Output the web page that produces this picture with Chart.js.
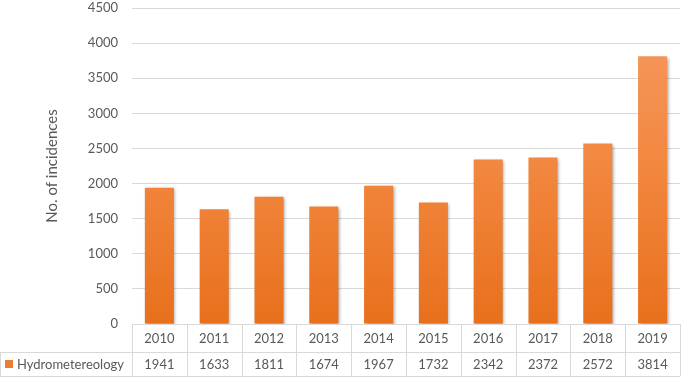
<!DOCTYPE html>
<html>
<head>
<meta charset="utf-8">
<script src="https://cdn.jsdelivr.net/npm/chart.js@4.4.0/dist/chart.umd.min.js"></script>
<style>
  html, body { margin: 0; padding: 0; background: #fff; }
  #wrap { width: 685px; height: 385px; }
</style>
</head>
<body>
<div id="wrap"><canvas id="myChart" width="685" height="385"></canvas></div>
<script>
const years = ["2010", "2011", "2012", "2013", "2014", "2015", "2016", "2017", "2018", "2019"];
const incidences = [1941, 1633, 1811, 1674, 1967, 1732, 2342, 2372, 2572, 3814];
const seriesName = "Hydrometereology";
const yTicks = [0, 500, 1000, 1500, 2000, 2500, 3000, 3500, 4000, 4500];

const FONT = "Lato, 'Open Sans', sans-serif";
const GRID = "#D9D9D9";
const TEXT = "#595959";

// bar shadow like the office chart
const shadowPlugin = {
  id: "barShadow",
  beforeDatasetsDraw(chart) {
    const c = chart.ctx;
    c.save();
    c.shadowColor = "rgba(0, 0, 0, 0.35)";
    c.shadowBlur = 3;
    c.shadowOffsetX = 1.5;
    c.shadowOffsetY = 1.5;
  },
  afterDatasetsDraw(chart) {
    chart.ctx.restore();
  },
};

// data table under the plot
const tablePlugin = {
  id: "dataTable",
  afterDraw(chart) {
    const c = chart.ctx;
    const x = chart.scales.x;
    const area = chart.chartArea;
    const colW = (area.right - area.left) / years.length;
    const top = area.bottom;
    const mid = top + 28;
    const bot = mid + 24;

    c.save();
    c.strokeStyle = GRID;
    c.lineWidth = 1;
    c.beginPath();
    c.moveTo(area.left, top + 0.5);
    c.lineTo(area.right, top + 0.5);
    c.moveTo(0, mid + 0.5);
    c.lineTo(area.right, mid + 0.5);
    c.moveTo(0, bot + 0.5);
    c.lineTo(area.right, bot + 0.5);
    for (let i = 0; i <= years.length; i++) {
      const px = Math.round(area.left + i * colW) + 0.5;
      c.moveTo(px, top);
      c.lineTo(px, bot);
    }
    c.moveTo(0.5, mid);
    c.lineTo(0.5, bot);
    c.stroke();

    c.fillStyle = TEXT;
    c.font = "13px " + FONT;
    c.textAlign = "center";
    c.textBaseline = "middle";
    years.forEach((yr, i) => {
      const px = x.getPixelForValue(i);
      c.fillText(yr, px, (top + mid) / 2 + 1);
      c.fillText(String(incidences[i]), px, (mid + bot) / 2 + 1);
    });

    c.fillStyle = "#ED7D31";
    c.fillRect(5, (mid + bot) / 2 - 4, 8, 8);
    c.fillStyle = TEXT;
    c.textAlign = "left";
    c.fillText(seriesName, 17, (mid + bot) / 2 + 1);
    c.restore();
  },
};

window.addEventListener("load", function () {
  const ctx = document.getElementById("myChart").getContext("2d");

  new Chart(ctx, {
    type: "bar",
    data: {
      labels: years,
      datasets: [
        {
          label: seriesName,
          data: incidences,
          backgroundColor: function (context) {
            const area = context.chart.chartArea;
            if (!area) return "#ED7D31";
            const g = context.chart.ctx.createLinearGradient(0, area.top, 0, area.bottom);
            g.addColorStop(0, "#F69A62");
            g.addColorStop(0.5, "#F2873F");
            g.addColorStop(1, "#E8701C");
            return g;
          },
          borderWidth: 0,
          barPercentage: 0.53,
          categoryPercentage: 1,
        },
      ],
    },
    options: {
      responsive: false,
      animation: false,
      layout: {
        padding: { top: 8, right: 5, left: 0, bottom: 0 },
      },
      scales: {
        x: {
          grid: { display: false },
          border: { display: false },
          ticks: { display: false },
          afterFit: function (scale) {
            scale.height = 61;
          },
        },
        y: {
          min: 0,
          max: 4500,
          afterBuildTicks: function (scale) {
            scale.ticks = yTicks.map((v) => ({ value: v }));
          },
          grid: { color: GRID, lineWidth: 1, drawTicks: false },
          border: { display: false },
          ticks: {
            color: TEXT,
            font: { family: FONT, size: 13 },
            padding: 14,
            callback: (v) => String(v),
          },
          title: {
            display: true,
            text: "No. of incidences",
            color: TEXT,
            font: { family: FONT, size: 15 },
            padding: { top: 43, bottom: 0 },
          },
          afterFit: function (scale) {
            scale.width = 132;
            scale.paddingTop = 0;
            scale.paddingBottom = 0;
          },
        },
      },
      plugins: {
        legend: { display: false },
        tooltip: { enabled: false },
      },
    },
    plugins: [shadowPlugin, tablePlugin],
  });
});
</script>
</body>
</html>
